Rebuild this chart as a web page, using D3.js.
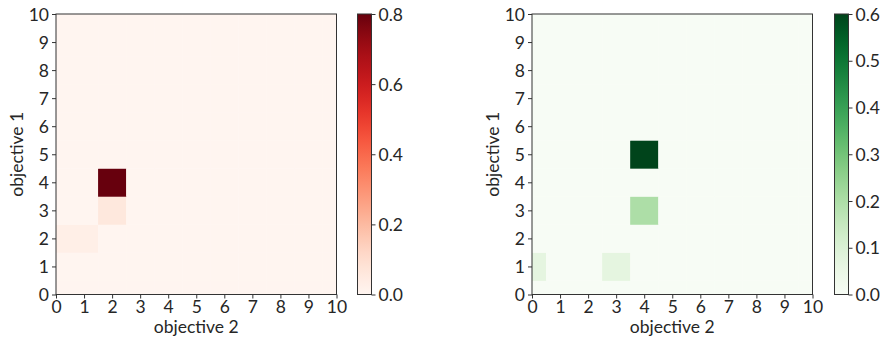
<!DOCTYPE html>
<html>
<head>
<meta charset="utf-8">
<script src="https://cdn.jsdelivr.net/npm/d3@7"></script>
<style>
  body { margin: 0; background: #fff; }
  svg text { font-family: Lato, "Open Sans", sans-serif; fill: #262626; }
  .axis path, .axis line { stroke: #333; }
</style>
</head>
<body>
<svg id="chart" width="884" height="342"></svg>
<script>
// grid positions (0..10 on both axes)
var positions = [0, 1, 2, 3, 4, 5, 6, 7, 8, 9, 10];
var ticks = [0, 1, 2, 3, 4, 5, 6, 7, 8, 9, 10];

// left heatmap: rows = objective 1 (0..10), cols = objective 2 (0..10)
var leftValues = [
  [0, 0, 0, 0, 0, 0, 0, 0, 0, 0, 0],
  [0, 0, 0, 0, 0, 0, 0, 0, 0, 0, 0],
  [0.03, 0.03, 0, 0, 0, 0, 0, 0, 0, 0, 0],
  [0, 0, 0.06, 0, 0, 0, 0, 0, 0, 0, 0],
  [0, 0, 0.8, 0, 0, 0, 0, 0, 0, 0, 0],
  [0, 0, 0, 0, 0, 0, 0, 0, 0, 0, 0],
  [0, 0, 0, 0, 0, 0, 0, 0, 0, 0, 0],
  [0, 0, 0, 0, 0, 0, 0, 0, 0, 0, 0],
  [0, 0, 0, 0, 0, 0, 0, 0, 0, 0, 0],
  [0, 0, 0, 0, 0, 0, 0, 0, 0, 0, 0],
  [0, 0, 0, 0, 0, 0, 0, 0, 0, 0, 0]
];
// right heatmap
var rightValues = [
  [0, 0, 0, 0, 0, 0, 0, 0, 0, 0, 0],
  [0.07, 0, 0, 0.07, 0, 0, 0, 0, 0, 0, 0],
  [0, 0, 0, 0, 0, 0, 0, 0, 0, 0, 0],
  [0, 0, 0, 0, 0.2, 0, 0, 0, 0, 0, 0],
  [0, 0, 0, 0, 0, 0, 0, 0, 0, 0, 0],
  [0, 0, 0, 0, 0.6, 0, 0, 0, 0, 0, 0],
  [0, 0, 0, 0, 0, 0, 0, 0, 0, 0, 0],
  [0, 0, 0, 0, 0, 0, 0, 0, 0, 0, 0],
  [0, 0, 0, 0, 0, 0, 0, 0, 0, 0, 0],
  [0, 0, 0, 0, 0, 0, 0, 0, 0, 0, 0],
  [0, 0, 0, 0, 0, 0, 0, 0, 0, 0, 0]
];
var leftBarTicks = [0.0, 0.2, 0.4, 0.6, 0.8];
var rightBarTicks = [0.0, 0.1, 0.2, 0.3, 0.4, 0.5, 0.6];

var svg = d3.select("#chart");

function drawPanel(id, left, values, maxVal, interp, barTicks, barLeft) {
  var top = 14, size = 280.5;
  var x = d3.scaleLinear().domain([0, 10]).range([left, left + size]);
  var y = d3.scaleLinear().domain([0, 10]).range([top + size, top]);
  var color = d3.scaleSequential(interp).domain([0, maxVal]);

  svg.append("clipPath").attr("id", "clip" + id)
    .append("rect").attr("x", left).attr("y", top).attr("width", size).attr("height", size);

  var cells = [];
  values.forEach(function(row, i) {
    row.forEach(function(v, j) { cells.push({ r: positions[i], c: positions[j], v: v }); });
  });

  svg.append("g").attr("clip-path", "url(#clip" + id + ")")
    .selectAll("rect").data(cells).enter().append("rect")
    .attr("x", function(d) { return x(d.c - 0.5); })
    .attr("y", function(d) { return y(d.r + 0.5); })
    .attr("width", x(1) - x(0) + 0.4)
    .attr("height", y(0) - y(1) + 0.4)
    .attr("fill", function(d) { return color(d.v); });

  // frame
  svg.append("rect").attr("x", left).attr("y", top).attr("width", size).attr("height", size)
    .attr("fill", "none").attr("stroke", "#333").attr("stroke-width", 1);

  var fmt = d3.format("d");
  svg.append("g").attr("class", "axis")
    .attr("transform", "translate(0," + (top + size) + ")")
    .call(d3.axisBottom(x).tickValues(ticks).tickFormat(fmt).tickSize(4).tickPadding(2))
    .call(function(g) { g.select(".domain").remove(); })
    .selectAll("text").style("font-size", "17.5px");

  svg.append("g").attr("class", "axis")
    .attr("transform", "translate(" + left + ",0)")
    .call(d3.axisLeft(y).tickValues(ticks).tickFormat(fmt).tickSize(4).tickPadding(3))
    .call(function(g) { g.select(".domain").remove(); })
    .selectAll("text").style("font-size", "17.5px").attr("dy", "0.35em");

  svg.append("text")
    .attr("x", left + size / 2).attr("y", top + size + 38)
    .attr("text-anchor", "middle").style("font-size", "17.5px")
    .text("objective 2");

  svg.append("text")
    .attr("transform", "translate(" + (left - 33) + "," + (top + size / 2) + ") rotate(-90)")
    .attr("text-anchor", "middle").style("font-size", "17.5px")
    .text("objective 1");

  // colorbar
  var barW = 14;
  var cb = d3.scaleLinear().domain([0, maxVal]).range([top + size, top]);
  var grad = svg.append("defs").append("linearGradient")
    .attr("id", "grad" + id).attr("x1", "0").attr("y1", "1").attr("x2", "0").attr("y2", "0");
  d3.range(0, 1.0001, 0.05).forEach(function(t) {
    grad.append("stop").attr("offset", t).attr("stop-color", color(t * maxVal));
  });
  svg.append("rect").attr("x", barLeft).attr("y", top).attr("width", barW).attr("height", size)
    .attr("fill", "url(#grad" + id + ")").attr("stroke", "#333").attr("stroke-width", 1);

  svg.append("g").attr("class", "axis")
    .attr("transform", "translate(" + (barLeft + barW) + ",0)")
    .call(d3.axisRight(cb).tickValues(barTicks).tickFormat(d3.format(".1f")).tickSize(4).tickPadding(3))
    .call(function(g) { g.select(".domain").remove(); })
    .selectAll("text").style("font-size", "17.5px").attr("dy", "0.35em");
}

drawPanel("L", 56, leftValues, 0.8, d3.interpolateReds, leftBarTicks, 357.5);
drawPanel("R", 532, rightValues, 0.6, d3.interpolateGreens, rightBarTicks, 834.5);
</script>
</body>
</html>
